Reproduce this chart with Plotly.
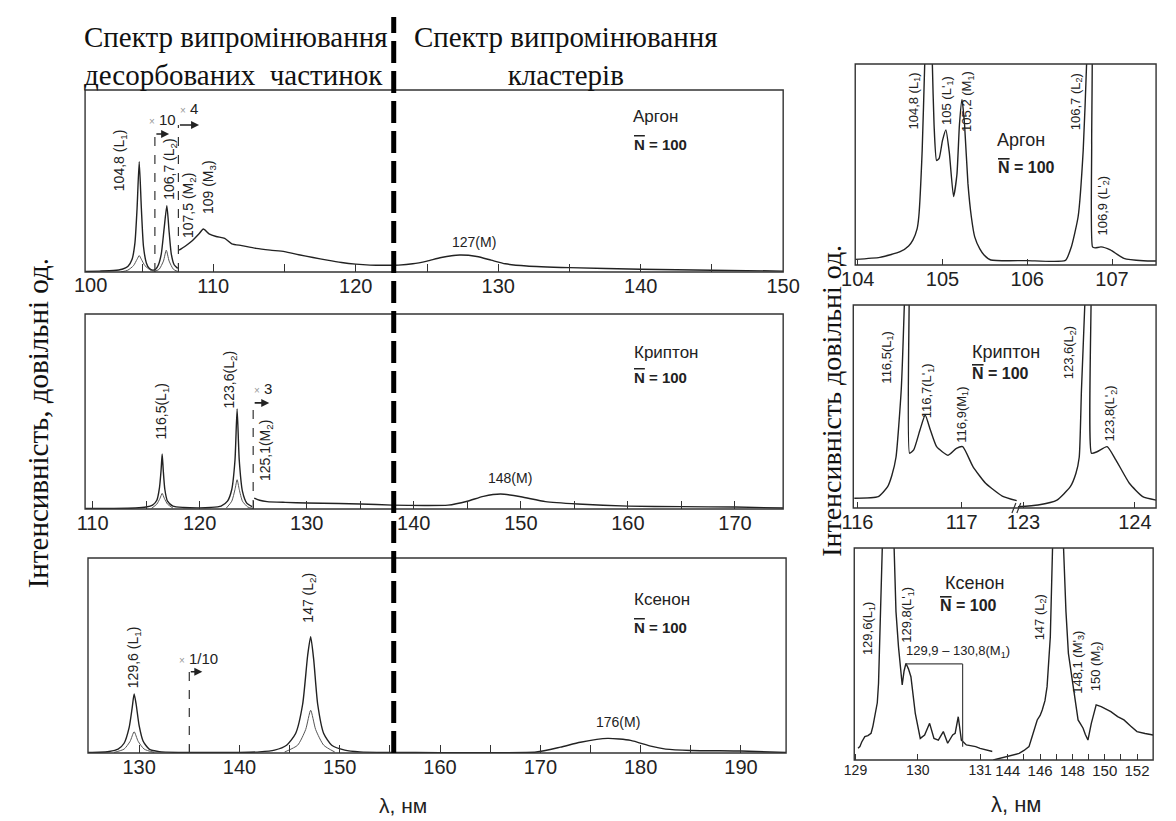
import plotly.graph_objects as go

W, H = 1176, 821

# ---------------- DATA ----------------
# Argon survey spectrum (left, top)
ar_main_x = [101, 102, 103, 103.6, 104.0, 104.3, 104.5, 104.65, 104.8, 104.95, 105.1, 105.3, 105.5, 105.75, 105.95,
             106.15, 106.35, 106.55, 106.74, 106.9, 107.05, 107.25, 107.5]
ar_main_y = [0.3, 0.5, 0.8, 1.5, 3, 7, 16, 35, 60.6, 35, 14, 5, 2, 1, 1.5, 4, 10, 24, 36.4, 22, 10, 4, 2]
ar_tail_x = [107.6, 108.0, 108.5, 109.0, 109.3, 109.7, 110.2, 110.8, 111.3, 112, 113, 114, 115, 116, 117, 118, 119,
             120, 121, 122, 123, 124, 125, 126, 127.3, 128.5, 129.5, 130.5, 132, 135, 140, 145, 150]
ar_tail_y = [12, 14, 17, 21, 23.6, 21, 19.5, 18.5, 15.5, 14.5, 13, 12, 11.2, 9.5, 8, 6.5, 5.2, 4.3, 3.8, 3.7, 3.8,
             4.5, 6, 8, 9.3, 8.5, 6.5, 4.5, 3.3, 2.4, 1.5, 1, 0.5]
ar_low_x = [103.5, 104.0, 104.4, 104.65, 104.8, 104.95, 105.2, 105.6, 105.9, 106.2, 106.5, 106.7, 106.9, 107.2, 107.5]
ar_low_y = [0, 1, 3.5, 7, 9, 7, 3.5, 1, 0.5, 1.5, 6, 12, 6, 1.5, 0.3]

# Krypton survey spectrum (left, middle)
kr_main_x = [109.3, 112, 114, 115, 115.6, 116, 116.25, 116.4, 116.5, 116.6, 116.75, 117, 117.5, 118.5, 120, 121,
             122, 122.6, 123.0, 123.3, 123.5, 123.7, 124.0, 124.4, 124.9]
kr_main_y = [0.3, 0.3, 0.5, 1, 2, 4.5, 11, 20, 28.2, 20, 10, 4, 1.5, 0.8, 0.6, 0.8, 1.5, 4, 10, 25, 51.3, 25, 9, 3, 1.2]
kr_tail_x = [125.1, 125.6, 126.3, 128, 130, 133, 135, 138, 141, 143.2, 145, 146.5, 148.1, 150, 152.3, 155.3, 160,
             165, 170, 174.5]
kr_tail_y = [5.6, 4.5, 3.8, 3.4, 3.1, 2.8, 2.6, 2, 1.8, 2, 4, 6.5, 7.7, 6.3, 3.8, 2.6, 1.5, 1.2, 1, 0.5]
kr_low_x = [115.5, 116, 116.3, 116.5, 116.7, 117, 117.5, None, 122.5, 123, 123.3, 123.5, 123.7, 124, 124.5, 125]
kr_low_y = [0.3, 2.5, 5.5, 8, 5.5, 2.5, 0.5, None, 0.5, 4, 10, 15, 10, 4, 1, 0.3]

# Xenon survey spectrum (left, bottom)
xe_main_x = [124.9, 126, 127, 127.9, 128.5, 129, 129.3, 129.5, 129.7, 130, 130.4, 131, 132, 134, 140, 142, 143.5,
             144.7, 145.6, 146.3, 146.8, 147.1, 147.4, 147.8, 148.4, 149.2, 150.5, 152, 155, 160, 165, 169.6, 172,
             174, 176.7, 179, 181, 182.5, 185, 190, 194.5]
xe_main_y = [0.3, 0.4, 0.8, 2, 5, 13, 23, 30.3, 25, 14, 6, 2, 0.7, 0.3, 0.3, 0.6, 1.5, 4, 10, 25, 50, 59.6, 48, 25,
             10, 4, 1.5, 0.6, 0.3, 0.2, 0.2, 0.5, 3, 5.5, 7.5, 6.5, 3.5, 2, 1.3, 1, 0.3]
xe_low_x = [127.5, 128.5, 129.1, 129.5, 129.9, 130.5, 131.5, None, 144.5, 145.8, 146.6, 147.1, 147.6, 148.4, 149.5]
xe_low_y = [0.3, 2, 6, 10.9, 6, 2, 0.3, None, 0.5, 4, 12, 21.9, 12, 4, 0.5]

# Argon detail (right, top)
ar_zoom_x = [103.97, 104.26, 104.5, 104.6, 104.65, 104.7, 104.72, 104.76, 104.79, 104.82, 104.86, 104.88, 104.9,
             104.93, 104.96, 105.0, 105.04, 105.08, 105.13, 105.17, 105.2, 105.23, 105.26, 105.3, 105.34, 105.38,
             105.44, 105.49, 105.57, 106.0, 106.45, 106.52, 106.6, 106.66, 106.7, 106.72, 106.75, 106.76, 106.77,
             106.8, 106.87, 106.98, 107.14, 107.37, 107.52]
ar_zoom_y = [2.8, 3.8, 6.6, 9.5, 12.4, 18, 24, 57, 100, 140, 140, 100, 70, 52, 53, 62, 67.2, 56, 34, 45, 70, 82.4,
             70, 40.6, 24, 14, 8, 5, 2.5, 2.2, 2.3, 9, 24, 57, 100, 140, 140, 60, 9, 8.5, 9, 7.5, 3.3, 2.1, 2]

# Krypton detail (right, middle) - two pieces of a broken axis
kr_zoom1_x = [115.97, 116.2, 116.29, 116.33, 116.37, 116.42, 116.45, 116.47, 116.49, 116.5, 116.54, 116.6, 116.65,
              116.7, 116.76, 116.87, 116.95, 117.01, 117.11, 117.23, 117.39, 117.53]
kr_zoom1_y = [4.8, 5.6, 10.5, 16, 25, 58, 100, 140, 140, 27, 28.6, 38.4, 45.8, 38.4, 30.2, 26, 29.4, 30.2, 20.3,
              12.2, 5.9, 3.6]
kr_zoom2_x = [122.95, 123.13, 123.3, 123.42, 123.47, 123.5, 123.52, 123.55, 123.57, 123.6, 123.61, 123.66, 123.75,
              123.83, 123.95, 124.07, 124.19]
kr_zoom2_y = [0.6, 1.5, 3.9, 10.5, 17, 25, 58, 100, 140, 140, 27, 27.7, 30.2, 23.6, 12.2, 5.6, 3.9]

# Xenon detail (right, bottom) - two pieces of a broken axis
xe_zoom1_x = [129.04, 129.07, 129.1, 129.15, 129.2, 129.25, 129.28, 129.32, 129.35, 129.37, 129.4, 129.43, 129.46,
              129.6, 129.62, 129.65, 129.69, 129.72, 129.75, 129.78, 129.81, 129.85, 129.89, 129.96, 130.04, 130.11,
              130.19, 130.26, 130.33, 130.41, 130.48, 130.56, 130.6, 130.65, 130.7, 130.78, 130.85, 130.93, 131.0,
              131.12, 131.2]
xe_zoom1_y = [5.5, 6.3, 8.5, 11, 11.5, 12.6, 16, 22, 27, 36.2, 66, 100, 140, 140, 100, 70, 53.5, 42.5, 35.4, 42,
              45.6, 43, 39.3, 22, 10.2, 11.8, 17.3, 10.2, 9.4, 13.4, 7.9, 11.8, 12.6, 20.4, 9.4, 7.1, 6.8, 6.3, 5.5,
              4.7, 4.0]
xe_zoom2_x = [143.1, 143.5, 143.9, 144.3, 144.7, 145.0, 145.31, 145.5, 145.62, 145.82, 146.0, 146.13, 146.3, 146.43,
              146.63, 146.75, 146.83, 146.9, 147.38, 147.45, 147.6, 147.75, 148.05, 148.2, 148.35, 148.5, 148.66,
              148.8, 148.96, 149.17, 149.47, 149.78, 150.1, 150.38, 150.8, 151.19, 151.6, 152.0, 152.5, 153.0]
xe_zoom2_y = [0, 0.8, 1.6, 2.3, 3.1, 4.5, 6.3, 11, 14.2, 18.9, 21, 23.6, 28, 34.6, 58, 80, 100, 140, 140, 100, 70,
              50.3, 34.6, 26, 18.9, 17, 15, 12, 9.4, 17.3, 26, 25.2, 24, 22.8, 20.5, 18.9, 16, 13.4, 12.5, 11.8]

# scale-change markers: position, height of the dashed riser, arrow end, factor
ar_marks = [105.9, 107.55]
ar_mark_top = [75.8, 80.8]
ar_mark_end = [106.9, 109.0]
ar_mark_txt = ["10", "4"]
ar_mark_txt_x = [106.4, 108.3]
ar_mark_txt_y = [84, 90]

kr_marks = [125.0]
kr_mark_top = [54.4]
kr_mark_end = [126.5]
kr_mark_txt = ["3"]
kr_mark_txt_x = [125.9]
kr_mark_txt_y = [62]

xe_marks = [135.0]
xe_mark_top = [41.7]
xe_mark_end = [136.3]
xe_mark_txt = ["1/10"]
xe_mark_txt_x = [135.9]
xe_mark_txt_y = [48.7]

# ---------------- FIGURE ----------------
SANS = "Liberation Sans, Arial, sans-serif"
SERIF = "Liberation Serif, Times New Roman, serif"
INK = "#222222"


def fx(px):
    return px / W


def fy(py):
    return 1 - py / H


fig = go.Figure()


def line(x, y, ax, width=1.4, color=INK, shape="spline", smoothing=0.6):
    fig.add_trace(go.Scatter(x=x, y=y, xaxis=ax[0], yaxis=ax[1], mode="lines",
                             line=dict(color=color, width=width, shape=shape,
                                       smoothing=smoothing if shape == "spline" else None),
                             showlegend=False, hoverinfo="skip", connectgaps=False))


# left panels
line(ar_main_x, ar_main_y, ("x", "y"))
line(ar_tail_x, ar_tail_y, ("x", "y"))
line(ar_low_x, ar_low_y, ("x", "y"), width=1.0, color="#555")
line(kr_main_x, kr_main_y, ("x2", "y2"))
line(kr_tail_x, kr_tail_y, ("x2", "y2"))
line(kr_low_x, kr_low_y, ("x2", "y2"), width=1.0, color="#555")
line(xe_main_x, xe_main_y, ("x3", "y3"))
line(xe_low_x, xe_low_y, ("x3", "y3"), width=1.0, color="#555")
# right panels
line(ar_zoom_x, ar_zoom_y, ("x4", "y4"), smoothing=0.5)
line(kr_zoom1_x, kr_zoom1_y, ("x5", "y5"), smoothing=0.5)
line(kr_zoom2_x, kr_zoom2_y, ("x6", "y6"), smoothing=0.5)
line(xe_zoom1_x, xe_zoom1_y, ("x7", "y7"), shape="linear")
line(xe_zoom2_x, xe_zoom2_y, ("x8", "y8"), shape="linear")

# panel geometry (pixels)
panels = {
    1: dict(x=(73, 790), y=(90, 272), rng=[101, 150]),
    2: dict(x=(73, 790), y=(314, 509), rng=[109.3, 174.5]),
    3: dict(x=(76, 793), y=(558, 753), rng=[124.9, 194.5]),
    4: dict(x=(864, 1173), y=(64, 265), rng=[103.97, 107.52]),
    5: dict(x=(862, 1030), y=(305, 508), rng=[115.96, 117.53]),
    6: dict(x=(1030, 1173), y=(305, 508), rng=[122.94, 124.19]),
    7: dict(x=(863, 1005), y=(548, 760), rng=[128.98, 131.2]),
    8: dict(x=(1005, 1170), y=(548, 760), rng=[143.05, 153.0]),
}

tickspec = {
    1: dict(dtick=10, tick0=100, minor=5, size=20),
    2: dict(dtick=10, tick0=110, minor=5, size=20),
    3: dict(dtick=10, tick0=130, minor=5, size=20),
    4: dict(dtick=1, tick0=104, minor=None, size=20),
    5: dict(dtick=1, tick0=116, minor=None, size=20),
    6: dict(dtick=1, tick0=123, minor=None, size=20),
    7: dict(dtick=1, tick0=129, minor=None, size=14),
    8: dict(dtick=2, tick0=144, minor=1, size=15),
}

layout_axes = {}
for i, p in panels.items():
    sx = "" if i == 1 else str(i)
    ts = tickspec[i]
    xa = dict(domain=[fx(p["x"][0]), fx(p["x"][1])], range=p["rng"], anchor="y" + sx,
              showgrid=False, zeroline=False, showline=False,
              ticks="inside", ticklen=8 if i <= 3 else 6, tickwidth=1.2, tickcolor="#333",
              tickmode="linear", dtick=ts["dtick"], tick0=ts["tick0"],
              tickfont=dict(family=SANS, size=ts["size"], color=INK), fixedrange=True)
    if ts["minor"]:
        xa["minor"] = dict(dtick=ts["minor"], ticks="inside", ticklen=8 if i <= 3 else 6,
                           tickwidth=1.2, tickcolor="#333", showgrid=False)
    ya = dict(domain=[fy(p["y"][1]), fy(p["y"][0])], range=[0, 100], anchor="x" + sx,
              visible=False, fixedrange=True)
    layout_axes["xaxis" + sx] = xa
    layout_axes["yaxis" + sx] = ya

shapes = []
# frames
frames = [((73, 790), (90, 272)), ((73, 790), (314, 509)), ((76, 793), (558, 753)),
          ((864, 1173), (64, 265)), ((862, 1173), (305, 508)), ((863, 1170), (548, 760))]
for (x0, x1), (y0, y1) in frames:
    shapes.append(dict(type="rect", xref="paper", yref="paper", x0=fx(x0), x1=fx(x1), y0=fy(y1), y1=fy(y0),
                       line=dict(color="#333", width=1.4), fillcolor="rgba(0,0,0,0)", layer="above"))

# axis-break marks on the krypton detail panel
for bx in (1027, 1032):
    shapes.append(dict(type="line", xref="paper", yref="paper", x0=fx(bx - 2), x1=fx(bx + 2),
                       y0=fy(513), y1=fy(503), line=dict(color="#333", width=1.2)))

# thick dashed separator
shapes.append(dict(type="line", xref="paper", yref="paper", x0=fx(390), x1=fx(390), y0=fy(753), y1=fy(17),
                   line=dict(color="black", width=5, dash="22px,8px")))

annotations = []


def scale_markers(marks, tops, ends, txts, tx, ty, xr, yr):
    for m, t, e, s, a, b in zip(marks, tops, ends, txts, tx, ty):
        shapes.append(dict(type="line", xref=xr, yref=yr, x0=m, x1=m, y0=0, y1=t,
                           line=dict(color="#333", width=1.2, dash="dash")))
        annotations.append(dict(x=e, y=t, xref=xr, yref=yr, ax=m, ay=t, axref=xr, ayref=yr,
                                showarrow=True, arrowhead=2, arrowsize=1, arrowwidth=1.6,
                                arrowcolor=INK, text=""))
        annotations.append(dict(x=a, y=b, xref=xr, yref=yr, showarrow=False, xanchor="center",
                                text='<span style="color:#999;font-size:10px">×</span> ' + s,
                                font=dict(family=SANS, size=15, color=INK)))


scale_markers(ar_marks, ar_mark_top, ar_mark_end, ar_mark_txt, ar_mark_txt_x, ar_mark_txt_y, "x", "y")
scale_markers(kr_marks, kr_mark_top, kr_mark_end, kr_mark_txt, kr_mark_txt_x, kr_mark_txt_y, "x2", "y2")
scale_markers(xe_marks, xe_mark_top, xe_mark_end, xe_mark_txt, xe_mark_txt_x, xe_mark_txt_y, "x3", "y3")

# M1 bracket in xenon detail
xe_bracket_x = [129.81, 130.72]
xe_bracket_y = [45.3, 6.3]
shapes.append(dict(type="line", xref="x7", yref="y7", x0=xe_bracket_x[0], x1=xe_bracket_x[1],
                   y0=xe_bracket_y[0], y1=xe_bracket_y[0], line=dict(color="#444", width=1.2)))
shapes.append(dict(type="line", xref="x7", yref="y7", x0=xe_bracket_x[1], x1=xe_bracket_x[1],
                   y0=xe_bracket_y[0], y1=xe_bracket_y[1], line=dict(color="#444", width=1.2)))


def rot(text, x, y, xr, yr, size=14):
    annotations.append(dict(text=text, x=x, y=y, xref=xr, yref=yr, textangle=-90, showarrow=False,
                            xanchor="center", yanchor="middle",
                            font=dict(family=SANS, size=size, color=INK)))


def txt(text, x, y, xr, yr, size=14, anchor="center", family=SANS, bold=False):
    annotations.append(dict(text=("<b>%s</b>" % text) if bold else text, x=x, y=y, xref=xr, yref=yr,
                            showarrow=False, xanchor=anchor, yanchor="middle",
                            font=dict(family=family, size=size, color=INK)))


NBAR = '<span style="text-decoration:overline">N</span> = 100'

# left panel peak labels
rot("104,8 (L<sub>1</sub>)", 103.46, 61.5, "x", "y")
rot("106,7 (L<sub>2</sub>)", 106.95, 56.6, "x", "y")
rot("107,5 (M<sub>2</sub>)", 108.3, 36.3, "x", "y")
rot("109 (M<sub>3</sub>)", 109.7, 46.7, "x", "y")
txt("127(M)", 128.3, 16.5, "x", "y", size=14)
txt("Аргон", 139.35, 85.2, "x", "y", size=17, anchor="left")
txt(NBAR, 139.4, 69.8, "x", "y", size=15, anchor="left", bold=True)

rot("116,5(L<sub>1</sub>)", 116.45, 50.3, "x2", "y2")
rot("123,6(L<sub>2</sub>)", 122.8, 66.2, "x2", "y2")
rot("125,1(M<sub>2</sub>)", 126.2, 29.7, "x2", "y2")
txt("148(M)", 149, 15.9, "x2", "y2", size=14)
txt("Криптон", 160.4, 80.5, "x2", "y2", size=17, anchor="left")
txt(NBAR, 160.4, 67.2, "x2", "y2", size=15, anchor="left", bold=True)

rot("129,6 (L<sub>1</sub>)", 129.5, 49.2, "x3", "y3")
rot("147 (L<sub>2</sub>)", 146.9, 79.5, "x3", "y3")
txt("176(M)", 177.7, 16, "x3", "y3", size=14)
txt("Ксенон", 179.1, 78.5, "x3", "y3", size=17, anchor="left")
txt(NBAR, 179.1, 64.6, "x3", "y3", size=15, anchor="left", bold=True)

# right panel labels
rot("104,8 (L<sub>1</sub>)", 104.67, 81.6, "x4", "y4", size=13)
rot("105 (L'<sub>1</sub>)", 105.05, 82, "x4", "y4", size=13)
rot("105,2 (M<sub>1</sub>)", 105.3, 81.6, "x4", "y4", size=13)
rot("106,7 (L<sub>2</sub>)", 106.58, 81.2, "x4", "y4", size=13)
rot("106,9 (L'<sub>2</sub>)", 106.9, 29.4, "x4", "y4", size=13)
txt("Аргон", 105.93, 62.2, "x4", "y4", size=18)
txt(NBAR, 105.99, 48.3, "x4", "y4", size=16, bold=True)

rot("116,5(L<sub>1</sub>)", 116.29, 74.4, "x5", "y5", size=13)
rot("116,7(L'<sub>1</sub>)", 116.67, 57.6, "x5", "y5", size=13)
rot("116,9(M<sub>1</sub>)", 117.0, 45.8, "x5", "y5", size=13)
txt("Криптон", 117.08, 76.8, "x5", "y5", size=18, anchor="left")
txt(NBAR, 117.08, 66.5, "x5", "y5", size=16, anchor="left", bold=True)
rot("123,6(L<sub>2</sub>)", 123.41, 76.8, "x6", "y6", size=13)
rot("123,8(L'<sub>2</sub>)", 123.78, 46.8, "x6", "y6", size=13)

rot("129,6(L<sub>1</sub>)", 129.22, 62.3, "x7", "y7", size=13)
rot("129,8(L'<sub>1</sub>)", 129.84, 68.4, "x7", "y7", size=13)
txt("129,9 – 130,8(M<sub>1</sub>)", 130.64, 51, "x7", "y7", size=13)
txt("Ксенон", 130.41, 83.5, "x7", "y7", size=18, anchor="left")
txt(NBAR, 130.33, 73.1, "x7", "y7", size=16, anchor="left", bold=True)
rot("147 (L<sub>2</sub>)", 146.02, 67.5, "x8", "y8", size=13)
rot("148,1 (M'<sub>3</sub>)", 148.33, 46.2, "x8", "y8", size=13)
rot("150 (M<sub>2</sub>)", 149.47, 44.3, "x8", "y8", size=13)


def paper_txt(text, px, py, size, family=SANS, angle=0, anchor="center", align="center", color=INK):
    annotations.append(dict(text=text, x=fx(px), y=fy(py), xref="paper", yref="paper", showarrow=False,
                            xanchor=anchor, yanchor="middle", align=align, textangle=angle,
                            font=dict(family=family, size=size, color=color)))


# first tick label of the argon survey axis (left edge)
paper_txt("100", 79, 285, 20)

# headings
paper_txt("Спектр випромінювання<br>десорбованих  частинок", 70, 56, 29, family=SERIF, anchor="left",
          align="left", color="#111")
paper_txt("Спектр випромінювання<br>кластерів", 567, 56, 29, family=SERIF, color="#111")

# axis titles
paper_txt("Інтенсивність, довільні од.", 25, 423, 29, family=SERIF, angle=-90, color="#111")
paper_txt("Інтенсивність довільні од.", 840, 401, 28, family=SERIF, angle=-90, color="#111")
paper_txt("λ, нм", 400, 805, 21)
paper_txt("λ, нм", 1030, 804, 22)

fig.update_layout(width=W, height=H, margin=dict(l=0, r=0, t=0, b=0),
                  paper_bgcolor="white", plot_bgcolor="rgba(0,0,0,0)",
                  shapes=shapes, annotations=annotations, showlegend=False, **layout_axes)

fig.write_html("out.html", config={"displayModeBar": False},
               post_script="document.body.style.margin='0';document.body.style.overflow='hidden';")
